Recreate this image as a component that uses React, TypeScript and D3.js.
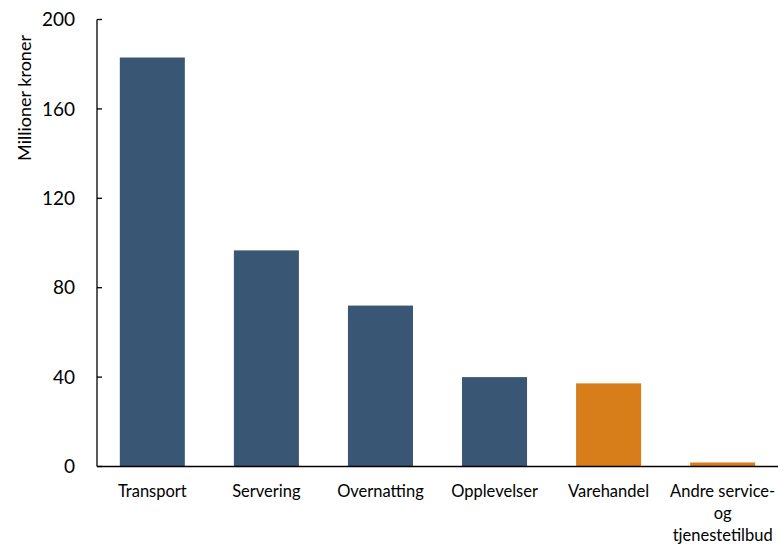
import React, { useEffect, useRef } from 'react';
import * as d3 from 'd3';

const categories = ['Transport', 'Servering', 'Overnatting', 'Opplevelser', 'Varehandel', 'Andre service-og tjenestetilbud'];
const categoryLines = [['Transport'], ['Servering'], ['Overnatting'], ['Opplevelser'], ['Varehandel'], ['Andre service-', 'og', 'tjenestetilbud']];
const values = [183, 96.7, 72, 40, 37.2, 1.8];
const barColors = ['#3a5675', '#3a5675', '#3a5675', '#3a5675', '#d77e1a', '#d77e1a'];
const yTicks = [0, 40, 80, 120, 160, 200];

const FONT = 'Lato, "Open Sans", sans-serif';

export default function App() {
  const svgRef = useRef<SVGSVGElement>(null);

  useEffect(() => {
    if (!svgRef.current) return;
    const svg = d3.select(svgRef.current);
    svg.selectAll('*').remove();

    const width = 778;
    const height = 544;
    const left = 97;
    const right = 778;
    const top = 19.5;
    const bottom = 466.5;

    const x = d3.scaleBand<string>()
      .domain(categories)
      .range([left, right])
      .paddingInner(0.43)
      .paddingOuter(0.2);

    const y = d3.scaleLinear()
      .domain([0, 200])
      .range([bottom, top]);

    svg.attr('width', width).attr('height', height);

    // Bars
    svg.append('g')
      .selectAll('rect')
      .data(values)
      .enter()
      .append('rect')
      .attr('x', (d, i) => x(categories[i]) as number)
      .attr('y', d => y(d))
      .attr('width', x.bandwidth())
      .attr('height', d => y(0) - y(d))
      .attr('fill', (d, i) => barColors[i]);

    // Y axis
    const yAxis = svg.append('g').attr('transform', `translate(${left},0)`);
    yAxis.append('line')
      .attr('x1', 0).attr('x2', 0)
      .attr('y1', y(200)).attr('y2', y(0))
      .attr('stroke', '#000').attr('stroke-width', 1.3);
    yTicks.forEach(t => {
      yAxis.append('line')
        .attr('x1', 0).attr('x2', 5)
        .attr('y1', y(t)).attr('y2', y(t))
        .attr('stroke', '#000').attr('stroke-width', 1.3);
      yAxis.append('text')
        .attr('x', -22)
        .attr('y', y(t))
        .attr('dy', '0.35em')
        .attr('text-anchor', 'end')
        .style('font-family', FONT)
        .style('font-size', '19px')
        .style('fill', '#000')
        .text(t);
    });

    // X baseline
    svg.append('line')
      .attr('x1', left).attr('x2', right)
      .attr('y1', y(0)).attr('y2', y(0))
      .attr('stroke', '#000').attr('stroke-width', 1.3);

    // Category labels
    categories.forEach((c, i) => {
      const cx = (x(c) as number) + x.bandwidth() / 2;
      const t = svg.append('text')
        .attr('text-anchor', 'middle')
        .style('font-family', FONT)
        .style('font-size', '16.5px')
        .style('fill', '#000');
      categoryLines[i].forEach((line, j) => {
        t.append('tspan')
          .attr('x', cx)
          .attr('y', 497 + j * 22)
          .text(line);
      });
    });

    // Y title
    svg.append('text')
      .attr('transform', `translate(31,98) rotate(-90)`)
      .attr('text-anchor', 'middle')
      .style('font-family', FONT)
      .style('font-size', '18px')
      .style('fill', '#000')
      .text('Millioner kroner');
  }, []);

  return (
    <div style={{ position: 'absolute', left: 0, top: 0, background: '#fff' }}>
      <svg ref={svgRef}></svg>
    </div>
  );
}
